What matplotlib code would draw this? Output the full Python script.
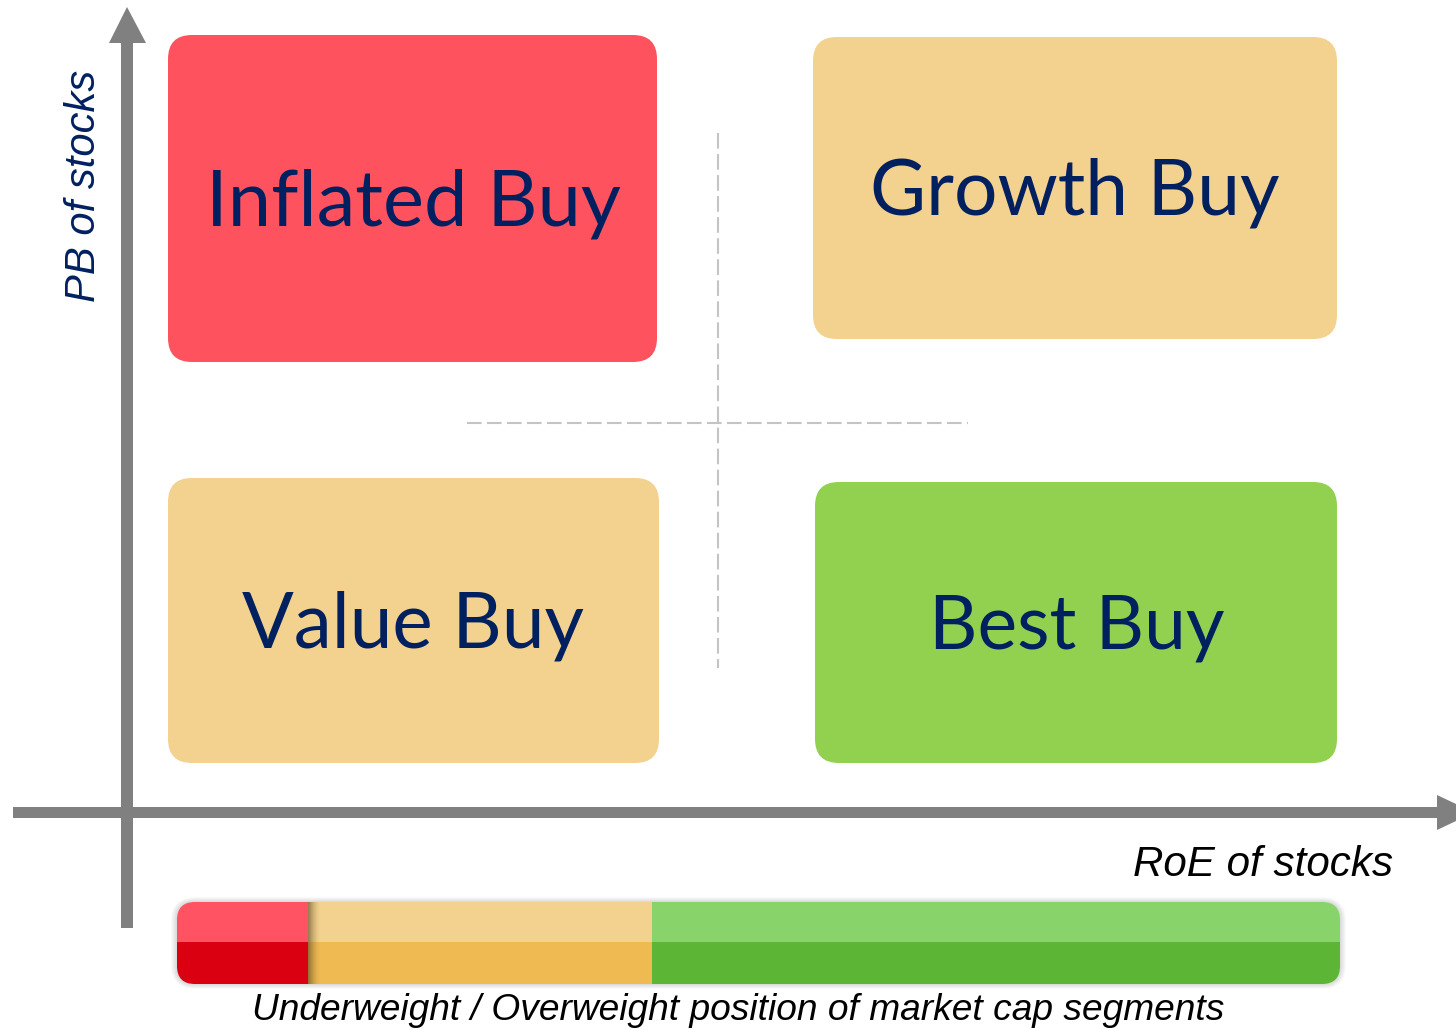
"""
Stock-selection quadrant: PB vs RoE, with a market-cap weighting bar below.
Canvas is laid out in pixel coordinates (1456 x 1030, y pointing down).
"""
import matplotlib
matplotlib.use('Agg')
import matplotlib.pyplot as plt
from matplotlib.patches import FancyBboxPatch, Rectangle, Polygon

# Quadrant contents (top-left, top-right, bottom-left, bottom-right)
quad_labels = ['Inflated Buy', 'Growth Buy', 'Value Buy', 'Best Buy']
quad_colors = ['#FF525F', '#F3D18E', '#F3D18E', '#92D050']

# Weighting bar segments: share of bar length, light (top) and dark (bottom) colours
seg_names = ['Underweight', 'Neutral', 'Overweight']
seg_share = [0.113, 0.295, 0.592]
seg_light = ['#FF5262', '#F3D18E', '#88D36A']
seg_dark = ['#DA0012', '#F0BA52', '#5CB535']

y_label = 'PB of stocks'
x_label = 'RoE of stocks'
bar_label = 'Underweight / Overweight position of market cap segments'

NAVY = '#002060'
GREY = '#808080'
BOX_FONT = ['Lato', 'DejaVu Sans']
AX_FONT = ['Liberation Sans', 'DejaVu Sans']

fig = plt.figure(figsize=(14.56, 10.30), dpi=100)
ax = fig.add_axes([0, 0, 1, 1])
ax.set_xlim(0, 1456)
ax.set_ylim(1030, 0)
ax.axis('off')
renderer = fig.canvas.get_renderer()


def fit_text(x, y, s, length, **kw):
    # size a text so that its run length matches the reference
    t = ax.text(x, y, s, ha='center', va='center', fontsize=50, **kw)
    bb = t.get_window_extent(renderer)
    run = bb.height if kw.get('rotation') == 90 else bb.width
    t.set_fontsize(50 * length / run)
    return t


# Quadrant boxes
boxes = [(168, 35, 489, 327), (813, 37, 524, 302), (168, 478, 491, 285), (815, 482, 522, 281)]
text_pos = [(413, 204, 415), (1075, 193, 410), (413, 626, 342), (1077, 628, 296)]
for (bx, by, bw, bh), (tx, ty, tw), lab, col in zip(boxes, text_pos, quad_labels, quad_colors):
    ax.add_patch(FancyBboxPatch((bx, by), bw, bh,
                                boxstyle='round,pad=0,rounding_size=24',
                                fc=col, ec='none', zorder=2))
    fit_text(tx, ty, lab, tw, color=NAVY, family=BOX_FONT, zorder=3)

# Dashed cross in the middle
ax.plot([718, 718], [133, 668], color='#C4C4C4', lw=1.5, dashes=(7.5, 2.6), zorder=1)
ax.plot([467, 968], [423, 423], color='#C4C4C4', lw=1.5, dashes=(7.0, 2.6), zorder=1)

# Axes arrows
ax.add_patch(Rectangle((121, 40), 12, 888, fc=GREY, ec='none', zorder=4))
ax.add_patch(Polygon([(109, 43), (127, 7), (146, 43)], closed=True, fc=GREY, ec='none', zorder=4))
ax.add_patch(Rectangle((13, 807), 1430, 11, fc=GREY, ec='none', zorder=4))
ax.add_patch(Polygon([(1437, 795), (1474, 812.5), (1437, 830)], closed=True,
                     fc=GREY, ec='none', zorder=4, clip_on=False))

fit_text(84, 186, y_label, 232, rotation=90, color=NAVY, style='italic', family=AX_FONT)
fit_text(1263, 865, x_label, 260, color='black', style='italic', family=AX_FONT)

# Weighting bar
bx0, bx1, by0, by1 = 177, 1340, 902, 984
ymid = 942
for i in range(6, 0, -1):
    ax.add_patch(FancyBboxPatch((bx0 - i, by0 - i * 0.8), bx1 - bx0 + 2 * i, by1 - by0 + i * 1.6,
                                boxstyle=f'round,pad=0,rounding_size={18 + i}',
                                fc='#000000', ec='none', alpha=0.025, zorder=2))
clip = FancyBboxPatch((bx0, by0), bx1 - bx0, by1 - by0,
                      boxstyle='round,pad=0,rounding_size=18', fc='none', ec='none')
ax.add_patch(clip)
total = bx1 - bx0
edges = [bx0]
for sh in seg_share:
    edges.append(edges[-1] + sh * total)
for i, (lo, hi) in enumerate(zip(edges[:-1], edges[1:])):
    for y0, y1, col in ((by0, ymid, seg_light[i]), (ymid, by1, seg_dark[i])):
        r = Rectangle((lo, y0), hi - lo, y1 - y0, fc=col, ec='none', zorder=3 + (i == 0))
        ax.add_patch(r)
        r.set_clip_path(clip)
# soft shadow cast by the red segment onto the tan one
for k in range(12):
    r = Rectangle((edges[1] + k, by0), 1.05, by1 - by0, fc='#4A3A1C',
                  ec='none', alpha=0.55 * (1 - k / 12) ** 1.6, zorder=3.5)
    ax.add_patch(r)
    r.set_clip_path(clip)

fit_text(738, 1011, bar_label, 973, color='black', style='italic', family=AX_FONT)

fig.savefig('out.png', dpi=100)
